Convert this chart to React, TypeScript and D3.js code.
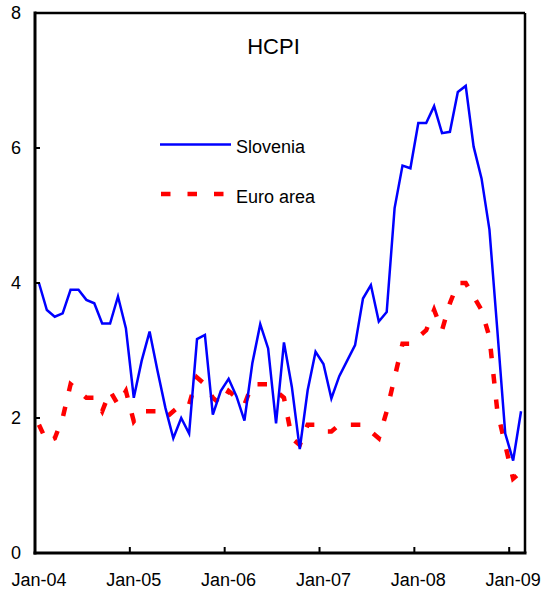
import React from 'react';
import * as d3 from 'd3';

// monthly HICP, Jan-04 .. Feb-09
const startMonth = new Date(2004, 0, 1);
const endMonth = new Date(2009, 1, 1);
const months = d3.timeMonth.range(startMonth, d3.timeMonth.offset(endMonth, 1));

const slovenia = [
  4.0, 3.6, 3.5, 3.55, 3.9, 3.9, 3.75, 3.7, 3.4, 3.4, 3.8, 3.33,
  2.3, 2.85, 3.28, 2.7, 2.15, 1.7, 2.0, 1.77, 3.17, 3.23, 2.05, 2.4,
  2.58, 2.32, 1.96, 2.81, 3.39, 3.03, 1.92, 3.12, 2.46, 1.54, 2.41, 2.98,
  2.8, 2.29, 2.62, 2.85, 3.08, 3.77, 3.97, 3.43, 3.57, 5.11, 5.74, 5.7,
  6.37, 6.37, 6.62, 6.22, 6.24, 6.83, 6.92, 6.02, 5.55, 4.79, 3.3, 1.77,
  1.37, 2.1,
];

const euroArea = [
  1.9, 1.65, 1.7, 2.0, 2.5, 2.4, 2.3, 2.3, 2.1, 2.4, 2.2, 2.4,
  1.95, 2.1, 2.1, 2.1, 2.0, 2.1, 2.2, 2.2, 2.6, 2.5, 2.3, 2.2,
  2.4, 2.3, 2.2, 2.5, 2.5, 2.5, 2.4, 2.3, 1.7, 1.6, 1.9, 1.9,
  1.8, 1.8, 1.9, 1.9, 1.9, 1.9, 1.8, 1.7, 2.1, 2.6, 3.1, 3.1,
  3.2, 3.3, 3.6, 3.3, 3.7, 4.0, 4.0, 3.8, 3.6, 3.2, 2.1, 1.6,
  1.1, 1.2,
];

const yTicks = [0, 2, 4, 6, 8];
const xTickLabels = ['Jan-04', 'Jan-05', 'Jan-06', 'Jan-07', 'Jan-08', 'Jan-09'];

const W = 544;
const H = 595;
const left = 35, right = 525, top = 13, bottom = 553;
const font = 'Arial, "Liberation Sans", sans-serif';

const App = () => {
  const x = d3.scaleBand<number>()
    .domain(months.map((_, i) => i))
    .range([left, right])
    .paddingInner(0)
    .paddingOuter(0);
  const y = d3.scaleLinear().domain([0, 8]).range([bottom, top]);
  const cx = (i: number) => (x(i) as number) + x.bandwidth() / 2;

  const line = d3.line<number>()
    .x((_, i) => cx(i))
    .y(d => y(d));

  // a tick every January
  const janIdx = months.map((m, i) => (m.getMonth() === 0 ? i : -1)).filter(i => i >= 0);

  return (
    <svg width={W} height={H} style={{ position: 'absolute', left: 0, top: 0, background: '#fff' }}
      fontFamily={font}>
      <rect x={0} y={0} width={W} height={H} fill="#fff" />

      {/* frame */}
      <line x1={left} y1={top} x2={right} y2={top} stroke="#000" strokeWidth={2.5} />
      <line x1={right} y1={top} x2={right} y2={bottom} stroke="#000" strokeWidth={2.5} />

      {/* series */}
      <path d={line(euroArea) || ''} fill="none" stroke="#ff0000" strokeWidth={4.5}
        strokeDasharray="9.5,16" />
      <path d={line(slovenia) || ''} fill="none" stroke="#0000ff" strokeWidth={2.5}
        strokeLinejoin="miter" />

      {/* y axis */}
      <line x1={left} y1={top - 1.5} x2={left} y2={bottom + 1.5} stroke="#000" strokeWidth={3} />
      {yTicks.map(t => (
        <g key={t}>
          <line x1={left} x2={left + 5} y1={y(t)} y2={y(t)} stroke="#000" strokeWidth={2} />
          <text x={21} y={y(t)} dy="0.35em" textAnchor="end" fontSize={18}>{t}</text>
        </g>
      ))}

      {/* x axis */}
      <line x1={left - 1.5} y1={bottom} x2={right + 1.5} y2={bottom} stroke="#000" strokeWidth={3} />
      {janIdx.map((i, k) => (
        <g key={i}>
          <line x1={x(i)} x2={x(i)} y1={bottom} y2={bottom - 6} stroke="#000" strokeWidth={2} />
          <text x={cx(i)} y={586} textAnchor="middle" fontSize={18}>{xTickLabels[k]}</text>
        </g>
      ))}

      {/* title */}
      <text x={273.5} y={54} textAnchor="middle" fontSize={22}>HCPI</text>

      {/* legend */}
      <line x1={160} x2={231} y1={144.5} y2={144.5} stroke="#0000ff" strokeWidth={2.5} />
      <text x={236} y={152.5} fontSize={18}>Slovenia</text>
      <line x1={161} x2={224} y1={194} y2={194} stroke="#ff0000" strokeWidth={4.5}
        strokeDasharray="9.5,17" />
      <text x={236} y={203} fontSize={18}>Euro area</text>
    </svg>
  );
};

export default App;
